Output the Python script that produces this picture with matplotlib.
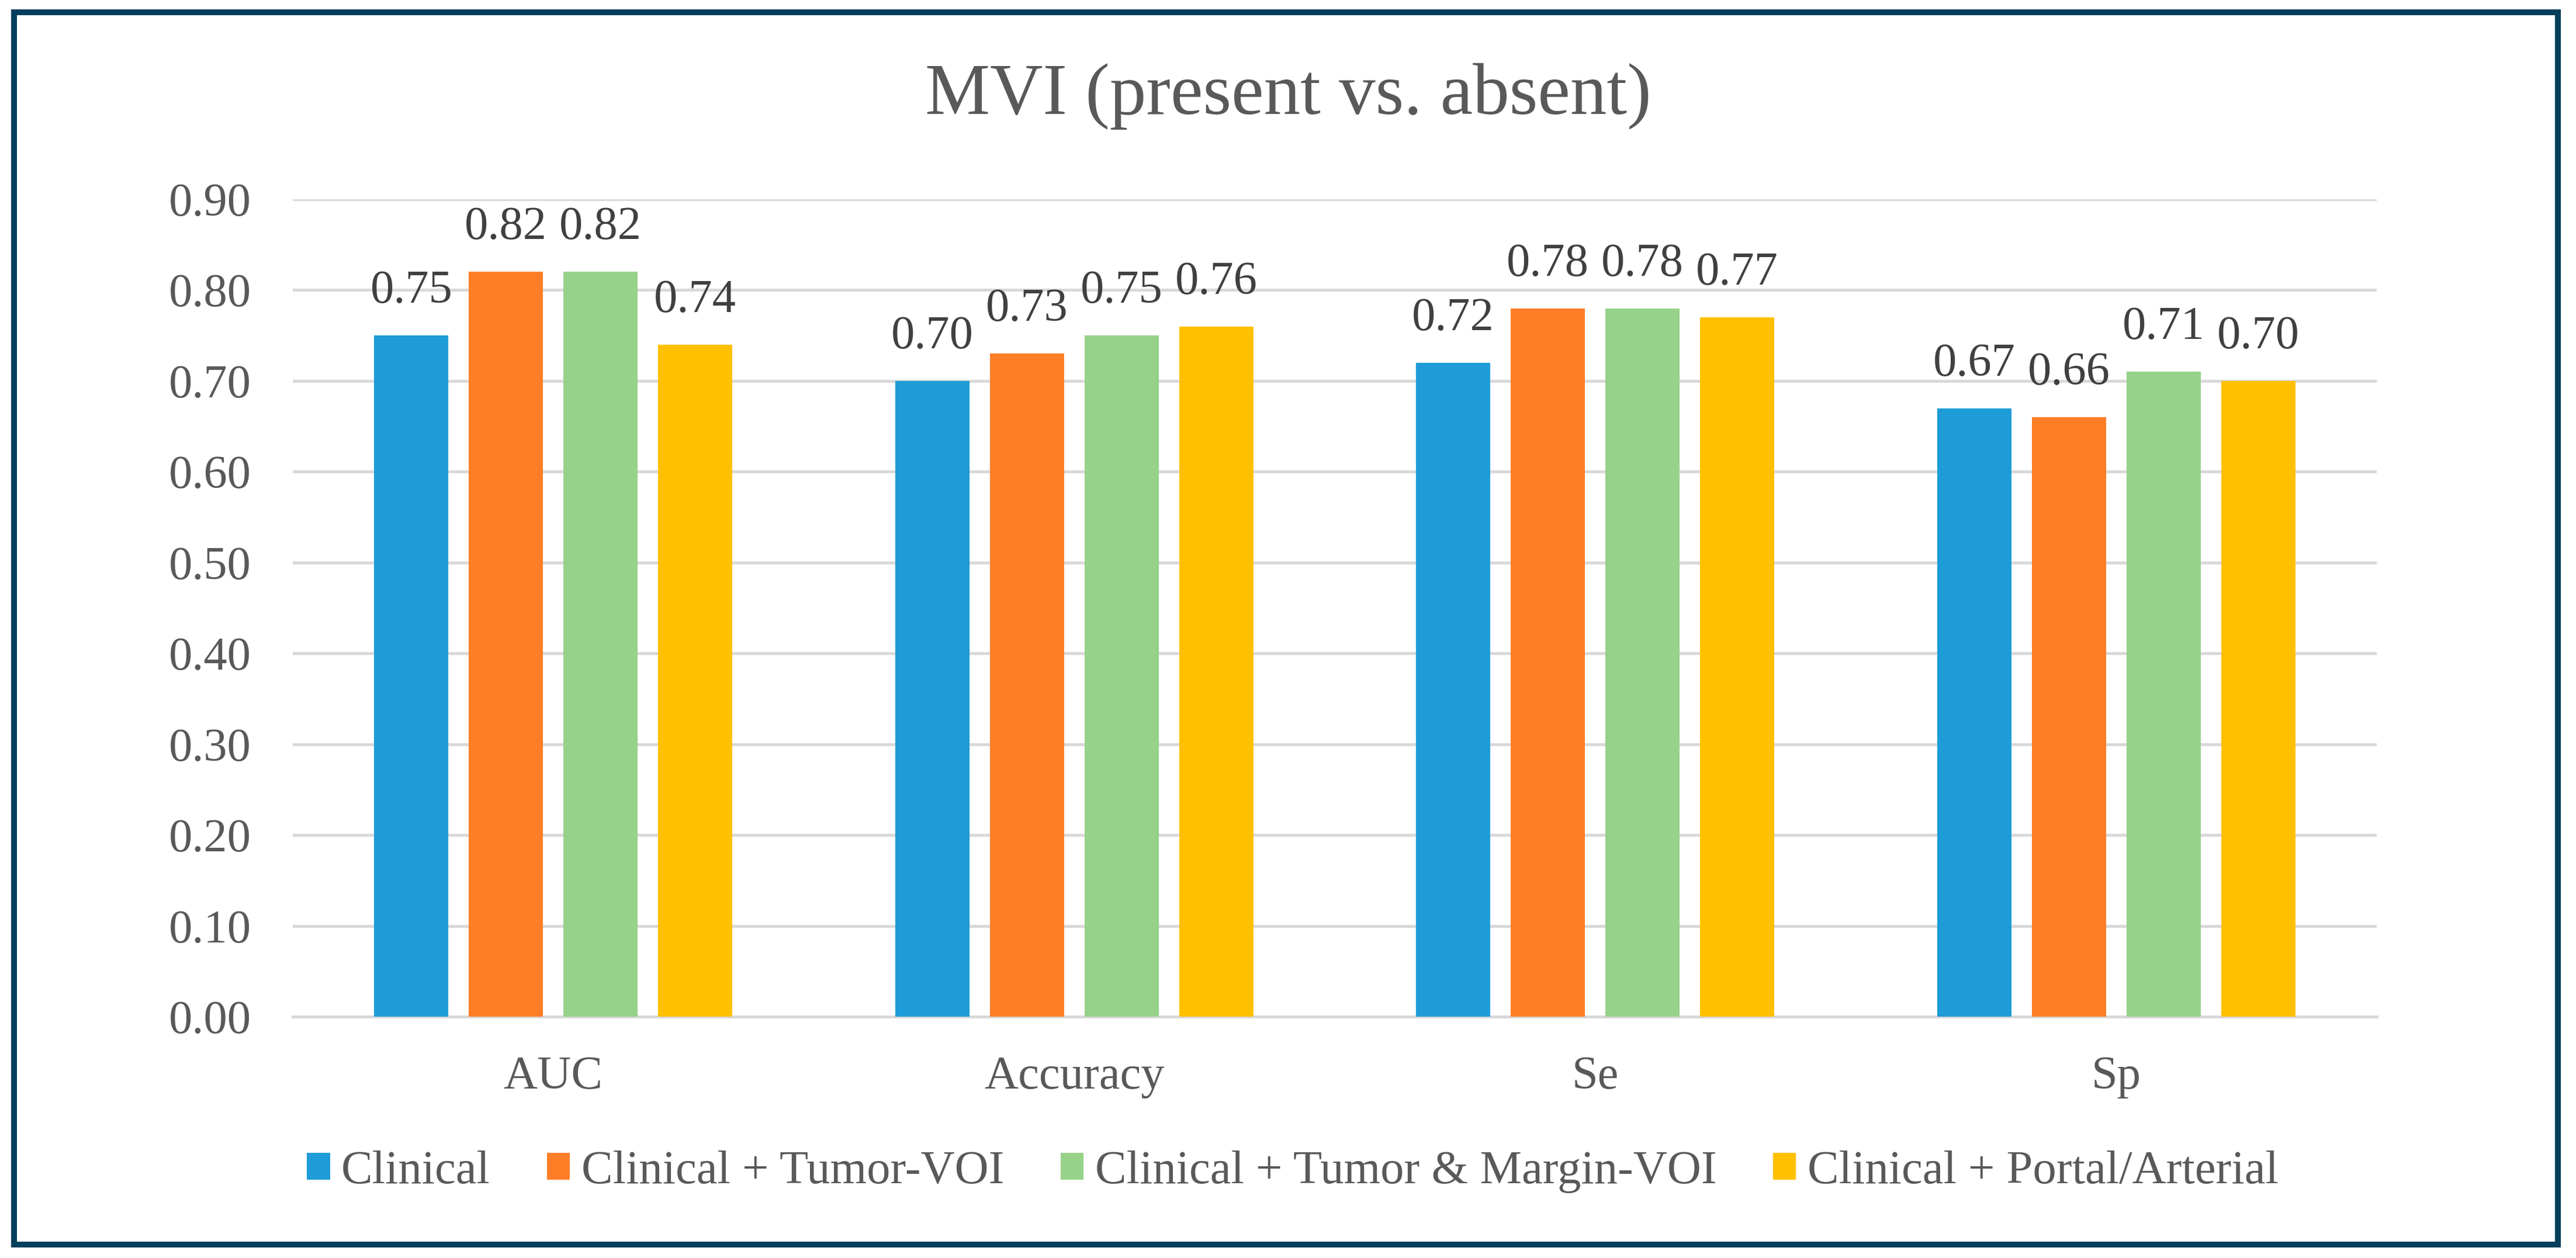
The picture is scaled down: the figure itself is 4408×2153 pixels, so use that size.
import numpy as np
import matplotlib
matplotlib.use("Agg")
import matplotlib.pyplot as plt
from matplotlib.patches import Rectangle

# Data
metrics = ["AUC", "Accuracy", "Se", "Sp"]
models = ["Clinical", "Clinical + Tumor-VOI", "Clinical + Tumor & Margin-VOI",
          "Clinical + Portal/Arterial"]
clinical = [0.75, 0.70, 0.72, 0.67]
tumor_voi = [0.82, 0.73, 0.78, 0.66]
tumor_margin_voi = [0.82, 0.75, 0.78, 0.71]
portal_arterial = [0.74, 0.76, 0.77, 0.70]
y_ticks = [0.0, 0.1, 0.2, 0.3, 0.4, 0.5, 0.6, 0.7, 0.8, 0.9]

colors = ["#1E9CD8", "#FE7E27", "#97D28A", "#FFC000"]
series = [clinical, tumor_voi, tumor_margin_voi, portal_arterial]

plt.rcParams["font.family"] = ["Liberation Serif", "DejaVu Serif"]

W, H, DPI = 4408, 2153, 200
fig = plt.figure(figsize=(W / DPI, H / DPI), dpi=DPI)
fig.patch.set_facecolor("white")

# axes placed in pixel terms
left, right, bottom, top = 501, 4067, 1740, 341
ax = fig.add_axes([left / W, 1 - bottom / H, (right - left) / W, (bottom - top) / H])

x = np.arange(len(metrics))
bar_w = 0.1425
step = 0.1817
for i, (vals, col, name) in enumerate(zip(series, colors, models)):
    bars = ax.bar(x + (i - 1.5) * step, vals, width=bar_w, color=col, label=name, zorder=3)
    ax.bar_label(bars, labels=[f"{v:.2f}" for v in vals], padding=14,
                 fontsize=29, color="#404040")

ax.set_xlim(-0.5, len(metrics) - 0.5)
ax.set_ylim(0, 0.9)
ax.set_yticks(y_ticks)
ax.set_yticklabels([f"{t:.2f}" for t in y_ticks])
ax.set_xticks(x)
ax.set_xticklabels(metrics)
ax.tick_params(axis="y", length=0, pad=25.5, labelsize=29, labelcolor="#595959")
ax.tick_params(axis="x", length=0, pad=24, labelsize=29, labelcolor="#595959")
ax.grid(axis="y", color="#D9D9D9", linewidth=1.8, zorder=0)
for s in ["top", "right", "left"]:
    ax.spines[s].set_visible(False)
ax.spines["bottom"].set_color("#D9D9D9")
ax.spines["bottom"].set_linewidth(1.8)
ax.set_axisbelow(True)

fig.text(2204 / W, 1 - 165 / H, "MVI (present vs. absent)", ha="center", va="center",
         fontsize=45, color="#595959")

fig.legend(loc="center", bbox_to_anchor=(2212 / W, 1 - 2005 / H), ncol=4, frameon=False,
           fontsize=29, labelcolor="#595959", handlelength=0.49, handleheight=0.49,
           handletextpad=0.24, columnspacing=1.2)

# dark frame around the chart
fig.patches.append(Rectangle((24 / W, 1 - 2130 / H), (4376.5 - 24) / W, (2130 - 21) / H,
                             transform=fig.transFigure, fill=False,
                             edgecolor="#023F5C", linewidth=3.6))

fig.savefig("out.png", dpi=DPI)
